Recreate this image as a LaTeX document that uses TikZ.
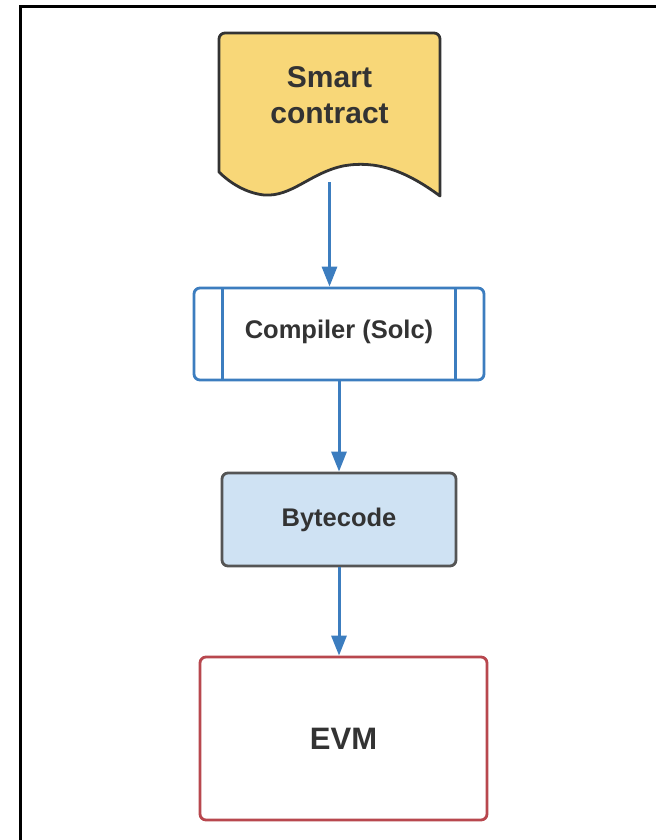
\documentclass[tikz,border=0pt]{standalone}
\usepackage{fontspec}
\setmainfont{Liberation Sans}
\usetikzlibrary{arrows.meta}
\definecolor{docfill}{HTML}{F8D778}
\definecolor{flowblue}{HTML}{3C7DBF}
\definecolor{bytefill}{HTML}{CFE2F3}
\definecolor{boxgray}{HTML}{555555}
\definecolor{evmred}{HTML}{B8474E}
\definecolor{inkgray}{HTML}{333333}
\tikzset{
  flow/.style={draw=flowblue, line width=3pt,
    -{Triangle[length=20pt,width=15pt]}},
  txt/.style={text=inkgray, align=center},
  rbox/.style={rounded corners=6pt, line width=2.8pt},
}
\begin{document}
\begin{tikzpicture}[x=1pt,y=-1pt]
  \useasboundingbox (0,0) rectangle (656,840);
  \fill[white] (0,0) rectangle (656,840);
  % frame: top and left edges
  \draw[line width=2.6pt, black] (20.5,840) -- (20.5,6.5) -- (656,6.5);

  % smart contract document shape
  \draw[fill=docfill, draw=inkgray, line width=2.8pt, line join=round]
    (219,172) -- (219,39) arc[start angle=180, end angle=270, radius=6]
    -- (434,33) arc[start angle=270, end angle=360, radius=6]
    -- (440,196)
    .. controls (405,170) and (375,160) .. (343,166)
    .. controls (310,173) and (292,197) .. (264,195)
    .. controls (246,193) and (230,183) .. (219,172) -- cycle;
  \node[txt, font=\bfseries\fontsize{30}{36}\selectfont] (doc) at (329.5,95) {Smart\\contract};
  \coordinate (docbot) at (329.5,182);

  % compiler: predefined process box
  \node[rbox, draw=flowblue, minimum width=290pt, minimum height=92pt] (comp) at (339,334) {};
  \draw[draw=flowblue, line width=2.8pt] (222.5,289) -- (222.5,379);
  \draw[draw=flowblue, line width=2.8pt] (455.5,289) -- (455.5,379);
  \node[txt, font=\bfseries\fontsize{25.5}{30}\selectfont] (comptext) at (339,332) {Compiler (Solc)};

  % bytecode
  \node[rbox, draw=boxgray, fill=bytefill, minimum width=234pt, minimum height=93pt,
        txt, font=\bfseries\fontsize{25.5}{30}\selectfont] (byte) at (339,519.5) {Bytecode};

  % EVM
  \node[rbox, draw=evmred, minimum width=287pt, minimum height=163pt,
        txt, font=\bfseries\fontsize{31}{36}\selectfont] (evm) at (343.5,738.5) {EVM};

  % connectors
  \draw[flow] (docbot) -- (docbot |- comp.north);
  \draw[flow] (comp.south) -- (byte.north);
  \draw[flow] (byte.south) -- (byte.south |- evm.north);
\end{tikzpicture}
\end{document}
